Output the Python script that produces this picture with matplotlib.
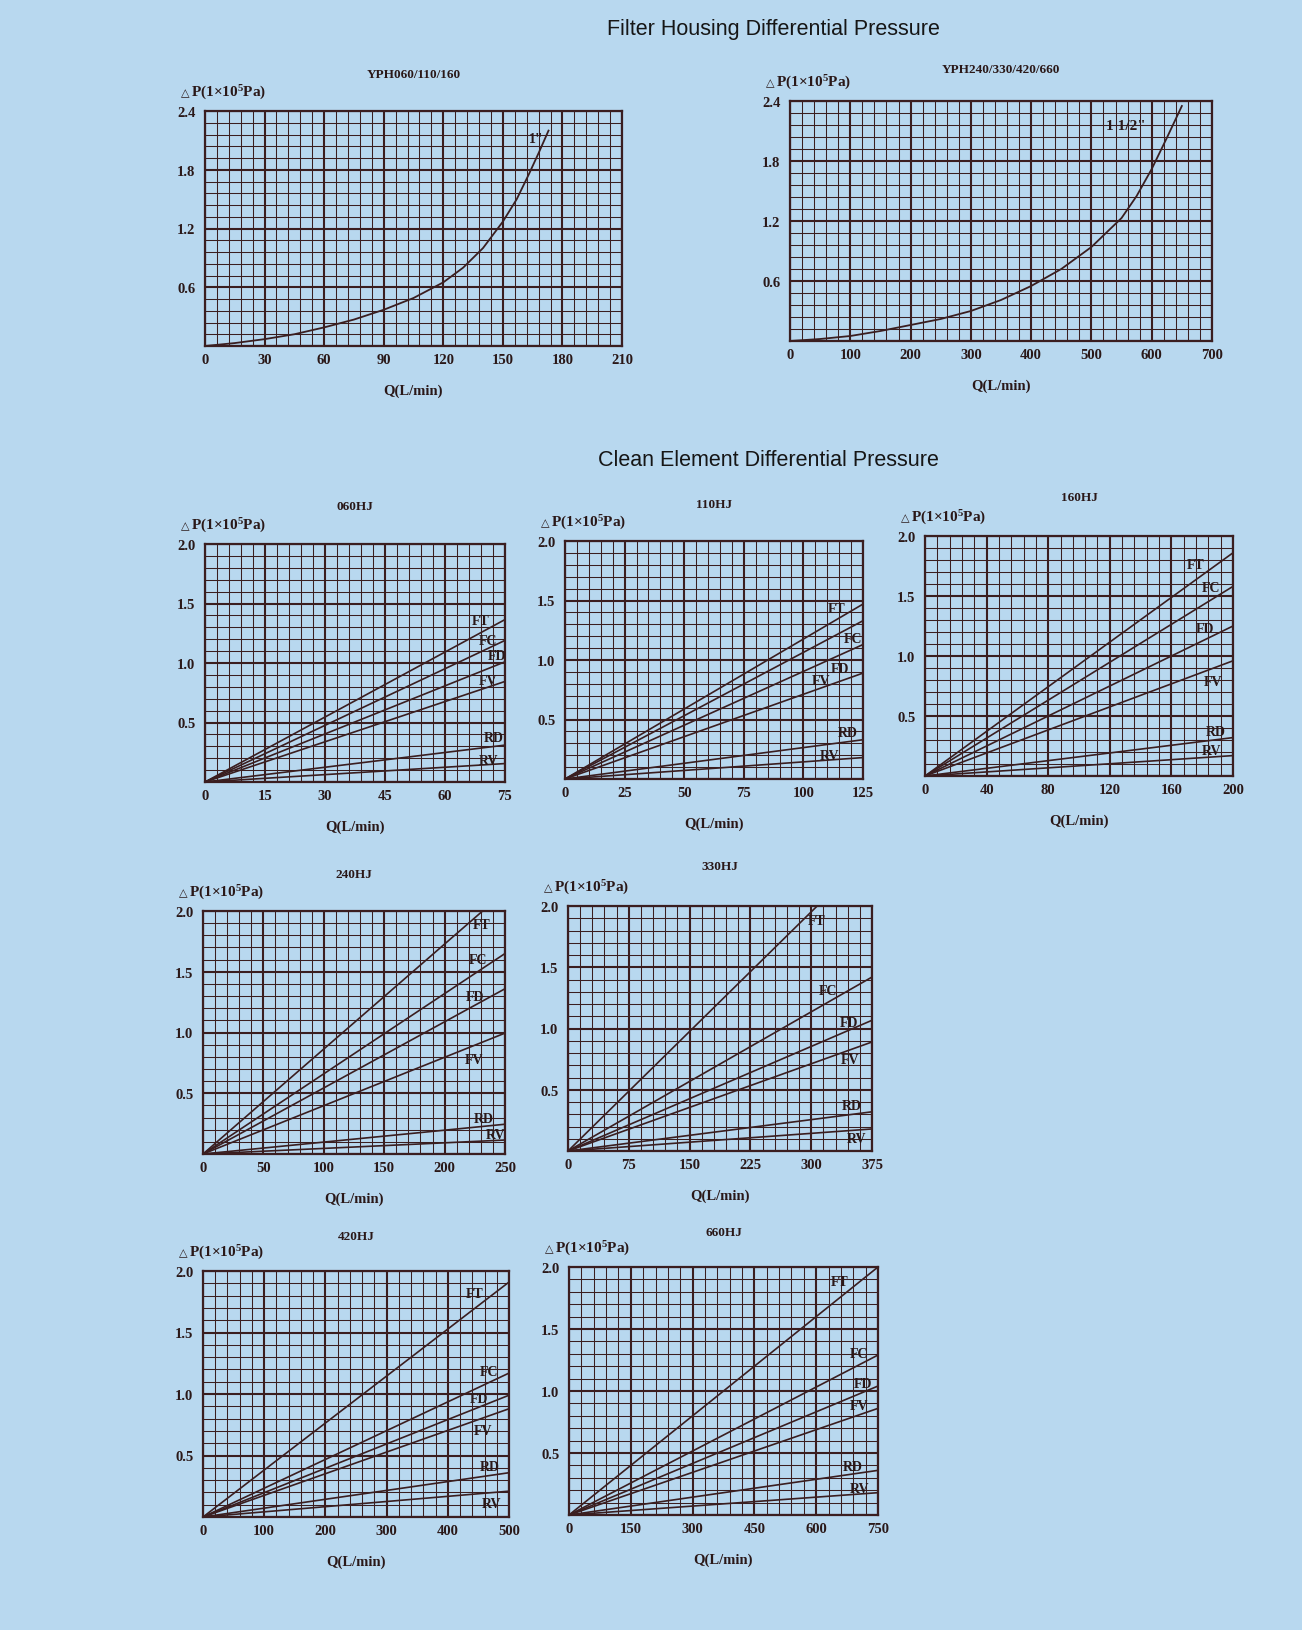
import matplotlib
matplotlib.use('Agg')
import matplotlib.pyplot as plt
import numpy as np
from matplotlib.ticker import MultipleLocator

# ---------------- data ----------------
# Filter housing curves
q_1in = [0, 15, 30, 45, 60, 75, 90, 105, 120, 130, 140, 150, 157, 163, 168, 173]
dp_1in = [0, 0.03, 0.07, 0.12, 0.19, 0.27, 0.37, 0.49, 0.65, 0.80, 1.00, 1.27, 1.50, 1.75, 1.97, 2.20]
q_15in = [0, 50, 100, 150, 200, 250, 300, 350, 400, 450, 500, 550, 575, 600, 625, 650]
dp_15in = [0, 0.02, 0.05, 0.10, 0.16, 0.22, 0.30, 0.41, 0.55, 0.72, 0.94, 1.23, 1.45, 1.72, 2.03, 2.35]

housing_yticks = [0.6, 1.2, 1.8, 2.4]
housing_ylabels = ["0.6", "1.2", "1.8", "2.4"]

# Clean element: series names and values at the right end of each x range
series = ["FT", "FC", "FD", "FV", "RD", "RV"]
models = ["060HJ", "110HJ", "160HJ", "240HJ", "330HJ", "420HJ", "660HJ"]
qmax = {"060HJ": 75, "110HJ": 125, "160HJ": 200, "240HJ": 250,
        "330HJ": 375, "420HJ": 500, "660HJ": 750}
dp_end_060 = [1.365, 1.19, 1.01, 0.845, 0.31, 0.155]
dp_end_110 = [1.47, 1.33, 1.13, 0.89, 0.33, 0.18]
dp_end_160 = [1.86, 1.58, 1.25, 0.96, 0.32, 0.17]
dp_end_240 = [2.16, 1.65, 1.36, 0.995, 0.245, 0.115]
dp_end_330 = [2.44, 1.42, 1.067, 0.89, 0.32, 0.18]
dp_end_420 = [1.91, 1.17, 0.99, 0.88, 0.36, 0.21]
dp_end_660 = [2.00, 1.29, 1.04, 0.86, 0.36, 0.18]
dp_end = {"060HJ": dp_end_060, "110HJ": dp_end_110, "160HJ": dp_end_160,
          "240HJ": dp_end_240, "330HJ": dp_end_330, "420HJ": dp_end_420,
          "660HJ": dp_end_660}
# label anchor positions (data coords)
lab_060 = [(68.8, 1.36), (70.8, 1.19), (72.9, 1.06), (70.8, 0.85), (72.3, 0.37), (70.8, 0.18)]
lab_110 = [(113.8, 1.43), (120.8, 1.18), (115.2, 0.93), (107.4, 0.83), (118.7, 0.39), (111.0, 0.20)]
lab_160 = [(176, 1.76), (185.9, 1.57), (181.5, 1.23), (187, 0.79), (189, 0.375), (185.9, 0.21)]
lab_240 = [(230.8, 1.89), (228, 1.60), (225, 1.30), (224, 0.78), (232, 0.29), (241.8, 0.16)]
lab_330 = [(307, 1.88), (321, 1.31), (346, 1.05), (348, 0.75), (350, 0.37), (356, 0.10)]
lab_420 = [(444, 1.82), (468, 1.18), (451, 0.96), (457, 0.70), (468, 0.41), (471, 0.11)]
lab_660 = [(657, 1.88), (705, 1.30), (714, 1.06), (705, 0.88), (689, 0.39), (705, 0.21)]
labpos = {"060HJ": lab_060, "110HJ": lab_110, "160HJ": lab_160, "240HJ": lab_240,
          "330HJ": lab_330, "420HJ": lab_420, "660HJ": lab_660}
clean_yticks = [0.5, 1.0, 1.5, 2.0]
clean_ylabels = ["0.5", "1.0", "1.5", "2.0"]

# ---------------- style ----------------
W, H = 1302, 1631
BG = '#b8d8ef'
INK = '#3a1e20'
TXT = '#2a1818'
SERIF = ['Liberation Serif', 'DejaVu Sans']
plt.rcParams['mathtext.fontset'] = 'custom'
plt.rcParams['mathtext.rm'] = 'Liberation Serif:bold'
plt.rcParams['mathtext.it'] = 'Liberation Serif:bold'
plt.rcParams['mathtext.default'] = 'rm'

fig = plt.figure(figsize=(W / 100, H / 100), dpi=100)
fig.patch.set_facecolor(BG)


def add_ax(l, t, r, b):
    return fig.add_axes([l / W, 1 - b / H, (r - l) / W, (b - t) / H])


def style(ax, xmax, xmajor, ymax, ymajor, yticks, ylabels, title, title_off):
    ax.set_facecolor('none')
    ax.set_xlim(0, xmax)
    ax.set_ylim(0, ymax)
    ax.xaxis.set_major_locator(MultipleLocator(xmajor))
    ax.xaxis.set_minor_locator(MultipleLocator(xmajor / 5))
    ax.yaxis.set_major_locator(MultipleLocator(ymajor))
    ax.yaxis.set_minor_locator(MultipleLocator(ymajor / 5))
    ax.grid(which='major', color=INK, lw=1.5)
    ax.grid(which='minor', color=INK, lw=0.75)
    ax.set_axisbelow(True)
    for s in ax.spines.values():
        s.set_color(INK)
        s.set_linewidth(1.6)
    ax.tick_params(which='both', length=0, colors=TXT)
    ax.tick_params(axis='x', pad=5)
    ax.tick_params(axis='y', pad=7)
    xt = np.arange(0, xmax + 1e-9, xmajor)
    ax.set_xticks(xt)
    ax.set_xticklabels([f"{v:g}" for v in xt], fontfamily=SERIF, fontweight='bold', fontsize=10.5)
    ax.set_yticks([0] + list(yticks))
    ax.set_yticklabels([""] + list(ylabels), fontfamily=SERIF, fontweight='bold', fontsize=10.5)
    ax.annotate('△', xy=(0, 1), xycoords='axes fraction',
                xytext=(-24, 19), textcoords='offset pixels', ha='left', va='center',
                fontsize=8, fontfamily='DejaVu Sans', color=TXT)
    ax.annotate(r'P(1×10$^{5}$Pa)', xy=(0, 1), xycoords='axes fraction',
                xytext=(-14, 19), textcoords='offset pixels', ha='left', va='center',
                fontsize=11, fontfamily=SERIF, fontweight='bold', color=TXT)
    ax.annotate('Q(L/min)', xy=(0.5, 0), xycoords='axes fraction',
                xytext=(0, -44), textcoords='offset pixels', ha='center', va='center',
                fontsize=10.5, fontfamily=SERIF, fontweight='bold', color=TXT)
    ax.annotate(title, xy=(0.5, 1), xycoords='axes fraction',
                xytext=(0, title_off), textcoords='offset pixels', ha='center', va='center',
                fontsize=9.5, fontfamily=SERIF, fontweight='bold', color=TXT)


# ---- titles ----
fig.text(773 / W, 1 - 30 / H, 'Filter Housing Differential Pressure', ha='center', va='center',
         fontsize=15.5, fontfamily='Liberation Sans', color='#161616')
fig.text(768 / W, 1 - 461 / H, 'Clean Element Differential Pressure', ha='center', va='center',
         fontsize=15.5, fontfamily='Liberation Sans', color='#161616')

# ---- housing charts ----
ax1 = add_ax(205, 112, 622, 347)
style(ax1, 210, 30, 2.4, 0.6, housing_yticks, housing_ylabels, 'YPH060/110/160', 37)
ax1.plot(q_1in, dp_1in, color=INK, lw=1.3)
ax1.text(167, 2.12, '1"', fontsize=10, fontfamily=SERIF, fontweight='bold', color=TXT,
         ha='center', va='center')

ax2 = add_ax(790, 102, 1212, 342)
style(ax2, 700, 100, 2.4, 0.6, housing_yticks, housing_ylabels, 'YPH240/330/420/660', 32)
ax2.plot(q_15in, dp_15in, color=INK, lw=1.3)
ax2.text(557, 2.16, '1 1/2"', fontsize=11, fontfamily=SERIF, fontweight='bold', color=TXT,
         ha='center', va='center')

# ---- clean element charts ----
boxes = {"060HJ": (205, 545, 505, 783), "110HJ": (565, 542, 863, 780),
         "160HJ": (925, 537, 1233, 777), "240HJ": (203, 912, 505, 1155),
         "330HJ": (568, 907, 872, 1152), "420HJ": (203, 1272, 509, 1518),
         "660HJ": (569, 1268, 878, 1516)}
toff = {"060HJ": 38, "110HJ": 37, "160HJ": 39, "240HJ": 37, "330HJ": 40,
        "420HJ": 35, "660HJ": 35}

for m in models:
    ax = add_ax(*boxes[m])
    xm = qmax[m]
    style(ax, xm, xm / 5, 2.0, 0.5, clean_yticks, clean_ylabels, m, toff[m])
    for s, v, (lx, ly) in zip(series, dp_end[m], labpos[m]):
        ax.plot([0, xm], [0, v], color=INK, lw=1.2)
        ax.text(lx, ly, s, fontsize=10, fontfamily=SERIF, fontweight='bold', color=TXT,
                ha='center', va='center')

fig.savefig('out.png', dpi=100, facecolor=BG)
